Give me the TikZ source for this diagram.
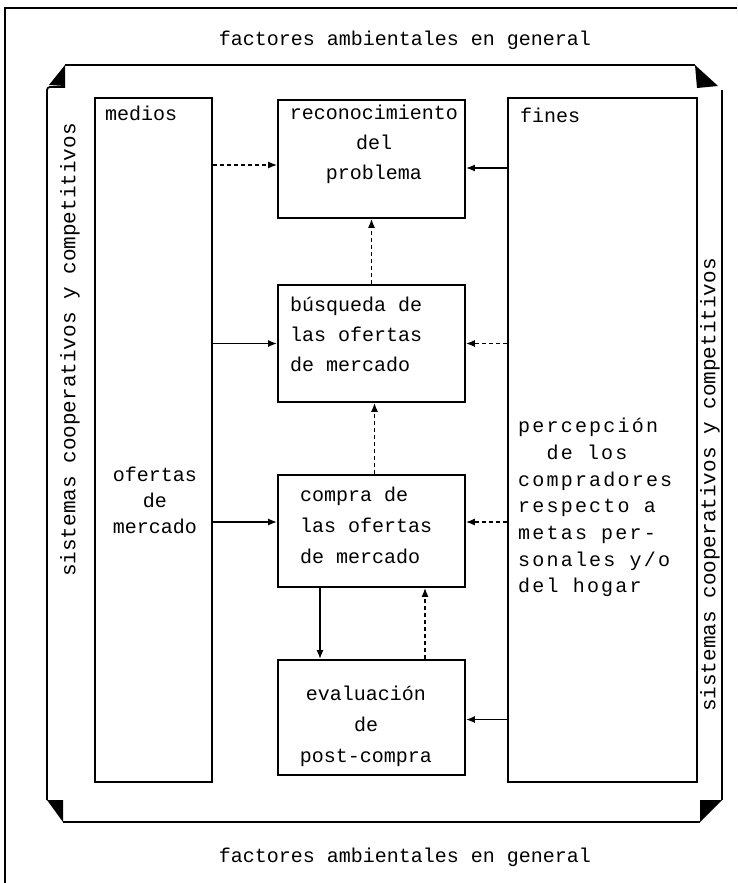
\documentclass[tikz,border=0pt]{standalone}
\usepackage{fontspec}
\setmainfont{Liberation Mono}
\newfontfamily\widemono[LetterSpace=11]{Liberation Mono}
\usetikzlibrary{arrows.meta,calc}
\tikzset{
  box/.style={draw,line width=1.6pt,rectangle,inner sep=0pt},
  txt/.style={font=\fontsize{20}{30}\selectfont,inner sep=0pt},
  sidetxt/.style={font=\fontsize{21}{30}\selectfont,inner sep=0pt,rotate=90},
  solidarr/.style={line width=1.8pt,-{Latex[length=9pt,width=7pt]}},
  dasharr/.style={line width=1.6pt,dash pattern=on 4pt off 3pt,-{Latex[length=9pt,width=7pt]}},
  frame/.style={line width=1.8pt,line join=round},
}
\begin{document}
\begin{tikzpicture}[x=1pt,y=-1pt]
\useasboundingbox (0,0) rectangle (737,883);
% outer open frame
\draw[line width=1.2pt] (5,883) -- (5,8) -- (737,8);
% titles
\node[txt] (ttop) at (405,40) {factores ambientales en general};
\node[txt] (tbot) at (405,857) {factores ambientales en general};
% inner frame with corner triangles
\draw[frame] (65,65) -- (695,65);
\fill (65,65) -- (65,86) -- (49,85) -- cycle;
\draw[frame,rounded corners=3pt] (65,87) -- (47,87) -- (47,800);
\fill (695,65) -- (718,86) -- (697,88) -- cycle;
\draw[frame] (722,90) -- (722,800);
\fill (47,800) -- (63,800) -- (63,822) -- cycle;
\draw[frame] (63,822) -- (700,822);
\fill (700,800) -- (722,800) -- (700,822) -- cycle;
% side texts
\node[sidetxt] (sl) at (70,350) {sistemas cooperativos y competitivos};
\node[sidetxt] (sr) at (710,485) {sistemas cooperativos y competitivos};
% boxes
\node[box,minimum width=117pt,minimum height=684pt] (L) at (153.5,440) {};
\node[box,minimum width=189pt,minimum height=684pt] (R) at (602.5,440) {};
\node[box,minimum width=187pt,minimum height=118pt] (A) at (371.5,159) {};
\node[box,minimum width=187pt,minimum height=117pt] (B) at (371.5,343.5) {};
\node[box,minimum width=187pt,minimum height=112pt] (C) at (371.5,531) {};
\node[box,minimum width=187pt,minimum height=115pt] (D) at (371.5,717.5) {};
% texts in boxes
\node[txt,anchor=west] (tmed) at (105,113) {medios};
\node[txt,align=center,font=\fontsize{20}{26}\selectfont] (tofe) at (155,500) {ofertas\\de\\mercado};
\node[txt,anchor=west] (tfin) at (520,115) {fines};
\node[txt,align=left,anchor=north west,font=\widemono\fontsize{20}{26.7}\selectfont] (tper) at (518,418) {percepción\\\ \ de los\\compradores\\respecto a\\metas per-\\sonales y/o\\del hogar};
\node[txt,align=center] (tA) at (374,144) {reconocimiento\\del\\problema};
\node[txt,align=left,anchor=north west] (tB) at (290,297) {búsqueda de\\las ofertas\\de mercado};
\node[txt,align=left,anchor=north west,font=\fontsize{20}{31}\selectfont] (tC) at (300,487) {compra de\\las ofertas\\de mercado};
\node[txt,align=center,font=\fontsize{20}{31}\selectfont] (tD) at (366,726) {evaluación\\de\\post-compra};
% connectors
\coordinate (a1) at ([yshift=-6pt]A.west);
\coordinate (a2) at ([yshift=-9pt]A.east);
\draw[dasharr] (L.east |- a1) -- (a1);
\draw[solidarr] (R.west |- a2) -- (a2);
\draw[dasharr] (B.north) -- (A.south);
\draw[solidarr] (L.east |- B.west) -- (B.west);
\draw[dasharr] (R.west |- B.east) -- (B.east);
\coordinate (b1) at ([xshift=3pt]C.north);
\draw[dasharr] (b1) -- (b1 |- B.south);
\coordinate (c1) at ([yshift=9pt]C.west);
\coordinate (c2) at ([yshift=9pt]C.east);
\draw[solidarr] (L.east |- c1) -- (c1);
\draw[dasharr] (R.west |- c2) -- (c2);
\coordinate (c3) at ([xshift=-51.5pt]C.south);
\draw[solidarr] (c3) -- (c3 |- D.north);
\coordinate (d1) at ([xshift=53.5pt]D.north);
\draw[dasharr] (d1) -- (d1 |- C.south);
\coordinate (d2) at ([yshift=-2pt]D.east);
\draw[solidarr] (R.west |- d2) -- (d2);
\end{tikzpicture}
\end{document}
